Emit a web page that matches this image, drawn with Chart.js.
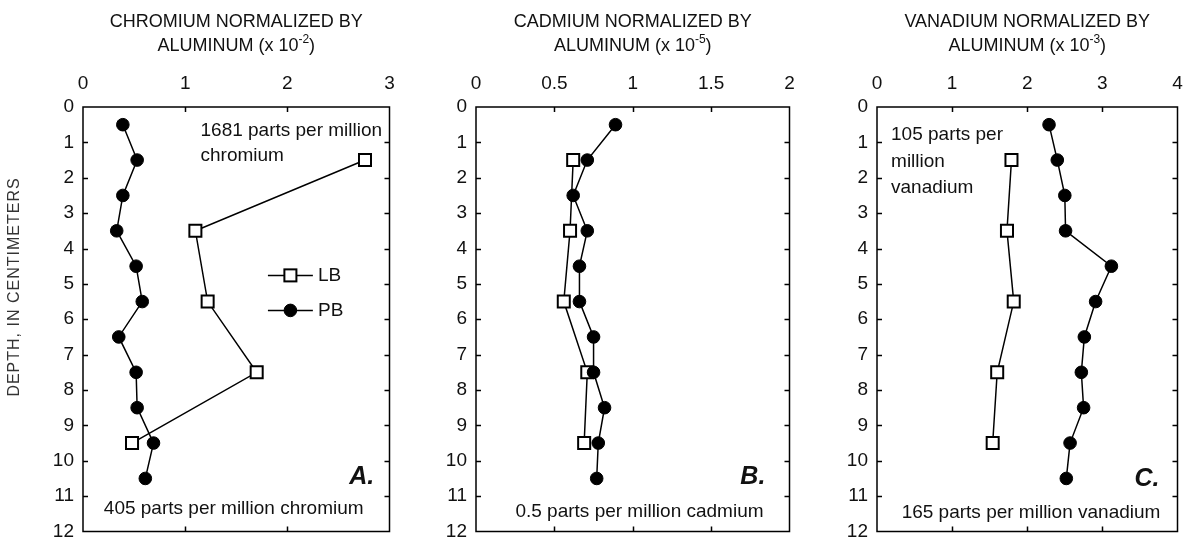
<!DOCTYPE html>
<html><head><meta charset="utf-8">
<script src="https://cdn.jsdelivr.net/npm/chart.js@4.4.1/dist/chart.umd.min.js"></script>
<style>
html,body{margin:0;padding:0;background:#fff;width:1188px;height:542px;overflow:hidden}
canvas{position:absolute;top:0}
</style></head>
<body>
<canvas id="cA" width="400" height="542" style="left:0px"></canvas>
<canvas id="cB" width="400" height="542" style="left:400px"></canvas>
<canvas id="cC" width="388" height="542" style="left:800px"></canvas>
<script>
// ---------- data ----------
const depthPB = [0.5, 1.5, 2.5, 3.5, 4.5, 5.5, 6.5, 7.5, 8.5, 9.5, 10.5];
const depthLB = [1.5, 3.5, 5.5, 7.5, 9.5];
const depthTicks = [0,1,2,3,4,5,6,7,8,9,10,11,12];

const chromiumPB = [0.39, 0.53, 0.39, 0.33, 0.52, 0.58, 0.35, 0.52, 0.53, 0.69, 0.61];
const chromiumLB = [2.76, 1.10, 1.22, 1.70, 0.48];
const chromiumTicks = [0, 1, 2, 3];
const chromiumTickLabels = ['0', '1', '2', '3'];

const cadmiumPB = [0.89, 0.71, 0.62, 0.71, 0.66, 0.66, 0.75, 0.75, 0.82, 0.78, 0.77];
const cadmiumLB = [0.62, 0.60, 0.56, 0.71, 0.69];
const cadmiumTicks = [0, 0.5, 1, 1.5, 2];
const cadmiumTickLabels = ['0', '0.5', '1', '1.5', '2'];

const vanadiumPB = [2.29, 2.40, 2.50, 2.51, 3.12, 2.91, 2.76, 2.72, 2.75, 2.57, 2.52];
const vanadiumLB = [1.79, 1.73, 1.82, 1.60, 1.54];
const vanadiumTicks = [0, 1, 2, 3, 4];
const vanadiumTickLabels = ['0', '1', '2', '3', '4'];

const seriesNames = ['LB', 'PB'];
const yAxisTitle = 'DEPTH, IN CENTIMETERS';

// ---------- styling ----------
const SANS = "'Liberation Sans', Arial, sans-serif";
const INK = '#111';

function pts(xs, ys) { return xs.map((v, i) => ({ x: v, y: ys[i] })); }

const decoPlugin = {
  id: 'deco',
  afterDraw(chart, args, o) {
    const { ctx, chartArea: a, scales: { x, y } } = chart;
    ctx.save();
    ctx.strokeStyle = '#000';
    ctx.lineWidth = 1.5;
    ctx.strokeRect(a.left, a.top, a.right - a.left, a.bottom - a.top);
    ctx.beginPath();
    x.ticks.forEach(t => {
      if (t.value > x.min && t.value < x.max) {
        const px = Math.round(x.getPixelForValue(t.value)) + 0.5;
        ctx.moveTo(px, a.top); ctx.lineTo(px, a.top + 5);
        ctx.moveTo(px, a.bottom); ctx.lineTo(px, a.bottom - 5);
      }
    });
    y.ticks.forEach(t => {
      if (t.value > y.min && t.value < y.max) {
        const py = Math.round(y.getPixelForValue(t.value)) + 0.5;
        ctx.moveTo(a.left, py); ctx.lineTo(a.left + 5, py);
        ctx.moveTo(a.right, py); ctx.lineTo(a.right - 5, py);
      }
    });
    ctx.stroke();

    // title
    ctx.fillStyle = INK;
    ctx.textBaseline = 'middle';
    const cx = (a.left + a.right) / 2;
    ctx.font = '18px ' + SANS;
    ctx.textAlign = 'center';
    ctx.fillText(o.title1, cx, 22.5);
    const main = o.title2, sup = o.sup, close = ')';
    ctx.textAlign = 'left';
    ctx.font = '18px ' + SANS;
    const wm = ctx.measureText(main).width, wc = ctx.measureText(close).width;
    ctx.font = '12px ' + SANS;
    const ws = ctx.measureText(sup).width;
    let sx = cx - (wm + ws + wc) / 2;
    ctx.font = '18px ' + SANS;
    ctx.fillText(main, sx, 46.5);
    ctx.font = '12px ' + SANS;
    ctx.fillText(sup, sx + wm, 40);
    ctx.font = '18px ' + SANS;
    ctx.fillText(close, sx + wm + ws, 46.5);

    // annotations
    (o.texts || []).forEach(t => {
      ctx.font = t.font || ('19px ' + SANS);
      ctx.textAlign = t.align || 'left';
      ctx.fillText(t.t, x.getPixelForValue(t.x), y.getPixelForValue(t.y));
    });

    // legend
    if (o.legend) {
      const L = o.legend;
      chart.data.datasets.slice().sort((p, q) => p.legendIndex - q.legendIndex).forEach((ds, i) => {
        const py = y.getPixelForValue(L.y[i]);
        const x0 = x.getPixelForValue(L.x0), x1 = x.getPixelForValue(L.x1);
        ctx.strokeStyle = '#000'; ctx.lineWidth = 1.5;
        ctx.beginPath(); ctx.moveTo(x0, py); ctx.lineTo(x1, py); ctx.stroke();
        const mx = (x0 + x1) / 2;
        ctx.lineWidth = ds.pointBorderWidth;
        ctx.fillStyle = ds.pointBackgroundColor;
        ctx.strokeStyle = ds.pointBorderColor;
        if (ds.pointStyle === 'rect') {
          const s = Math.SQRT1_2 * ds.pointRadius;
          ctx.fillRect(mx - s, py - s, 2 * s, 2 * s);
          ctx.strokeRect(mx - s, py - s, 2 * s, 2 * s);
        } else {
          ctx.beginPath(); ctx.arc(mx, py, ds.pointRadius, 0, Math.PI * 2); ctx.fill(); ctx.stroke();
        }
        ctx.fillStyle = INK;
        ctx.font = '19px ' + SANS;
        ctx.textAlign = 'left';
        ctx.fillText(ds.label, x.getPixelForValue(L.tx), py);
      });
    }

    // y axis title
    if (o.yTitle) {
      ctx.save();
      ctx.translate(15, 287);
      ctx.rotate(-Math.PI / 2);
      ctx.font = '16px ' + SANS;
      ctx.letterSpacing = '1px';
      ctx.fillStyle = '#333';
      ctx.textAlign = 'center';
      ctx.fillText(o.yTitle, 0, 0);
      ctx.restore();
    }
    ctx.restore();
  }
};

function makePanel(id, cfg) {
  const tickFont = { family: SANS, size: 19, lineHeight: 1 };
  const fixPad = s => { s.paddingLeft = 0; s.paddingRight = 0; s.paddingTop = 0; s.paddingBottom = 0; };
  return new Chart(document.getElementById(id), {
    type: 'scatter',
    data: {
      datasets: [
        {
          label: seriesNames[0], legendIndex: 0, order: 1,
          data: pts(cfg.lb, depthLB),
          showLine: true, borderColor: '#000', borderWidth: 1.5,
          pointStyle: 'rect', pointRadius: 8.5, pointHoverRadius: 8.5,
          pointBackgroundColor: '#fff', pointBorderColor: '#000', pointBorderWidth: 2
        },
        {
          label: seriesNames[1], legendIndex: 1, order: 0,
          data: pts(cfg.pb, depthPB),
          showLine: true, borderColor: '#000', borderWidth: 1.5,
          pointStyle: 'circle', pointRadius: 6.3, pointHoverRadius: 6.3,
          pointBackgroundColor: '#000', pointBorderColor: '#000', pointBorderWidth: 1
        }
      ]
    },
    options: {
      responsive: false, animation: false, devicePixelRatio: 1,
      layout: { padding: { left: 0, right: cfg.padRight, top: 0, bottom: 10 } },
      plugins: {
        legend: { display: false }, tooltip: { enabled: false },
        deco: cfg.deco
      },
      scales: {
        x: {
          type: 'linear', position: 'top', min: cfg.ticks[0], max: cfg.ticks[cfg.ticks.length - 1],
          afterBuildTicks: s => { s.ticks = cfg.ticks.map(v => ({ value: v })); },
          afterFit: s => { s.height = 107; fixPad(s); },
          ticks: { font: tickFont, color: INK, padding: 14, maxRotation: 0, autoSkip: false,
                   callback: (v, i) => cfg.tickLabels[i] },
          grid: { display: false, drawTicks: false }, border: { display: false }
        },
        y: {
          type: 'linear', position: 'left', reverse: true, min: 0, max: 12,
          afterBuildTicks: s => { s.ticks = depthTicks.map(v => ({ value: v })); },
          afterFit: s => { s.width = cfg.left; fixPad(s); },
          ticks: { font: tickFont, color: INK, padding: 9, autoSkip: false,
                   callback: v => String(v) },
          grid: { display: false, drawTicks: false }, border: { display: false }
        }
      }
    },
    plugins: [decoPlugin]
  });
}

makePanel('cA', {
  pb: chromiumPB, lb: chromiumLB, ticks: chromiumTicks, tickLabels: chromiumTickLabels, left: 83, padRight: 10,
  deco: {
    title1: 'CHROMIUM NORMALIZED BY', title2: 'ALUMINUM (x 10', sup: '-2',
    yTitle: yAxisTitle,
    texts: [
      { t: '1681 parts per million', x: 1.15, y: 0.67 },
      { t: 'chromium', x: 1.15, y: 1.38 },
      { t: '405 parts per million chromium', x: 1.475, y: 11.35, align: 'center' },
      { t: 'A.', x: 2.85, y: 10.47, align: 'right', font: "italic bold 25px " + SANS }
    ],
    legend: { x0: 1.81, x1: 2.25, tx: 2.30, y: [4.76, 5.75] }
  }
});

makePanel('cB', {
  pb: cadmiumPB, lb: cadmiumLB, ticks: cadmiumTicks, tickLabels: cadmiumTickLabels, left: 76, padRight: 9,
  deco: {
    title1: 'CADMIUM NORMALIZED BY', title2: 'ALUMINUM (x 10', sup: '-5',
    texts: [
      { t: 'B.', x: 1.846, y: 10.47, align: 'right', font: "italic bold 25px " + SANS },
      { t: '0.5 parts per million cadmium', x: 1.043, y: 11.43, align: 'center' }
    ]
  }
});

makePanel('cC', {
  pb: vanadiumPB, lb: vanadiumLB, ticks: vanadiumTicks, tickLabels: vanadiumTickLabels, left: 77, padRight: 5,
  deco: {
    title1: 'VANADIUM NORMALIZED BY', title2: 'ALUMINUM (x 10', sup: '-3',
    texts: [
      { t: '105 parts per', x: 0.187, y: 0.79 },
      { t: 'million', x: 0.187, y: 1.54 },
      { t: 'vanadium', x: 0.187, y: 2.27 },
      { t: 'C.', x: 3.76, y: 10.53, align: 'right', font: "italic bold 25px " + SANS },
      { t: '165 parts per million vanadium', x: 2.05, y: 11.46, align: 'center' }
    ]
  }
});
</script>
</body></html>
